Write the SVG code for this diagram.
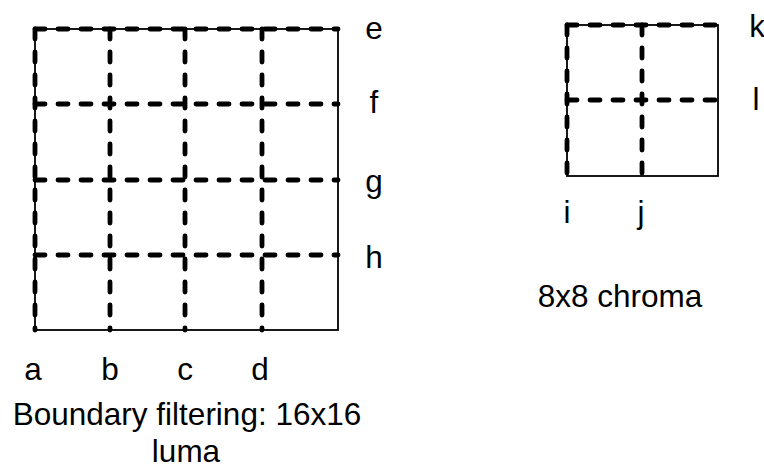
<svg xmlns="http://www.w3.org/2000/svg" width="764" height="466" viewBox="0 0 764 466">
<style>
.frame{fill:none;stroke:#000;stroke-width:1.8}
.dash{fill:none;stroke:#000;stroke-width:4.8;stroke-dasharray:10 13;stroke-linecap:round}
text{font-family:"Liberation Sans",Arial,sans-serif;font-size:31.5px;fill:#000}
.m{text-anchor:middle}
</style>
<rect width="764" height="466" fill="#fff"/>
<g id="luma">
<rect class="frame" x="35" y="29" width="303" height="301"/>
<g class="dash">
<line x1="35" y1="29" x2="338" y2="29"/>
<line x1="35" y1="104" x2="338" y2="104"/>
<line x1="35" y1="180" x2="338" y2="180"/>
<line x1="35" y1="255" x2="338" y2="255"/>
<line x1="35" y1="29" x2="35" y2="330"/>
<line x1="110" y1="29" x2="110" y2="330"/>
<line x1="185" y1="29" x2="185" y2="330"/>
<line x1="262" y1="29" x2="262" y2="330"/>
</g>
<text class="m" x="374" y="39">e</text>
<text class="m" x="374" y="113">f</text>
<text class="m" x="374" y="192">g</text>
<text class="m" x="374" y="268">h</text>
<text class="m" x="33" y="380">a</text>
<text class="m" x="110" y="380">b</text>
<text class="m" x="185" y="380">c</text>
<text class="m" x="260" y="380">d</text>
<text class="m" x="187" y="425">Boundary filtering: 16x16</text>
<text class="m" x="186" y="462">luma</text>
</g>
<g id="chroma">
<rect class="frame" x="567" y="25" width="151" height="151"/>
<g class="dash">
<line x1="567" y1="25" x2="718" y2="25"/>
<line x1="567" y1="100" x2="718" y2="100"/>
<line x1="567" y1="25" x2="567" y2="176"/>
<line x1="642" y1="25" x2="642" y2="176"/>
</g>
<text class="m" x="757" y="37">k</text>
<text class="m" x="756" y="110">l</text>
<text class="m" x="567" y="223">i</text>
<text class="m" x="641" y="223">j</text>
<text class="m" x="620" y="307">8x8 chroma</text>
</g>
</svg>
